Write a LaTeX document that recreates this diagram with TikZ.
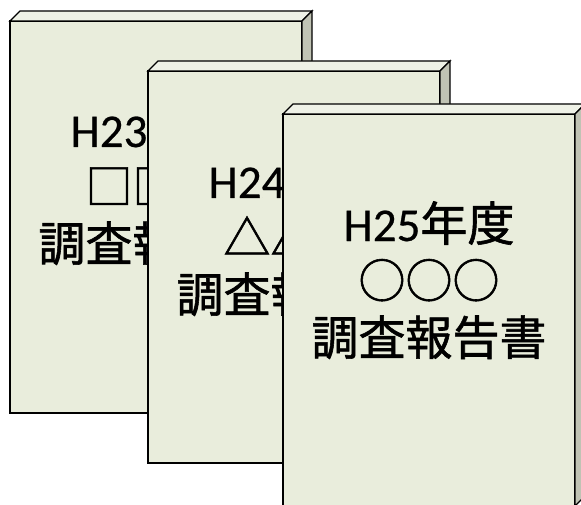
\documentclass[tikz,border=0pt]{standalone}
\usepackage{fontspec}
\setmainfont[FakeBold=0.5]{Carlito}
\newfontfamily\cjk[FakeBold=1.2]{Noto Sans CJK JP}
\definecolor{bookface}{RGB}{233,237,220}
\definecolor{booktop}{RGB}{239,242,231}
\definecolor{bookside}{RGB}{192,195,180}
\begin{document}
\begin{tikzpicture}[x=1pt,y=-1pt,
		face/.style={fill=bookface,draw=black,line width=1.4pt},
		lid/.style={fill=booktop,draw=black,line width=1.4pt},
		side/.style={fill=bookside,draw=black,line width=1.4pt},
		label/.style={anchor=base,inner sep=0pt,font=\fontsize{47}{57}\selectfont}]
		\useasboundingbox ( 0, 0 ) rectangle ( 581, 505 );
		\clip ( 0, 0 ) rectangle ( 581, 505 );

		% отчёт H23
		\draw [face] ( 10, 21 ) rectangle ( 302, 413 );
		\draw [lid] ( 10, 21 ) -- ( 20, 11 ) -- ( 312, 11 ) -- ( 302, 21 ) -- cycle;
		\draw [side] ( 302, 21 ) -- ( 312, 11 ) -- ( 312, 403 ) -- ( 302, 413 ) -- cycle;
		\node [label] (h23a) at ( 156, 147 ) {H23{\cjk 年度}};
		\node [label] (h23b) at ( 156, 204 ) {\cjk □□□};
		\node [label] (h23c) at ( 156, 261 ) {\cjk 調査報告書};

		% отчёт H24
		\draw [face] ( 148, 71 ) rectangle ( 440, 463 );
		\draw [lid] ( 148, 71 ) -- ( 158, 61 ) -- ( 450, 61 ) -- ( 440, 71 ) -- cycle;
		\draw [side] ( 440, 71 ) -- ( 450, 61 ) -- ( 450, 453 ) -- ( 440, 463 ) -- cycle;
		\node [label] (h24a) at ( 294, 198 ) {H24{\cjk 年度}};
		\node [label] (h24b) at ( 294, 255 ) {\cjk △△△};
		\node [label] (h24c) at ( 294, 312 ) {\cjk 調査報告書};

		% отчёт H25
		\draw [face] ( 283, 114 ) rectangle ( 575, 506 );
		\draw [lid] ( 283, 114 ) -- ( 293, 104 ) -- ( 585, 104 ) -- ( 575, 114 ) -- cycle;
		\draw [side] ( 575, 114 ) -- ( 585, 104 ) -- ( 585, 496 ) -- ( 575, 506 ) -- cycle;
		\node [label] (h25a) at ( 429, 241 ) {H25{\cjk 年度}};
		\node [label] (h25b) at ( 429, 298 ) {\cjk ○○○};
		\node [label] (h25c) at ( 429, 355 ) {\cjk 調査報告書};
	\end{tikzpicture}
\end{document}
